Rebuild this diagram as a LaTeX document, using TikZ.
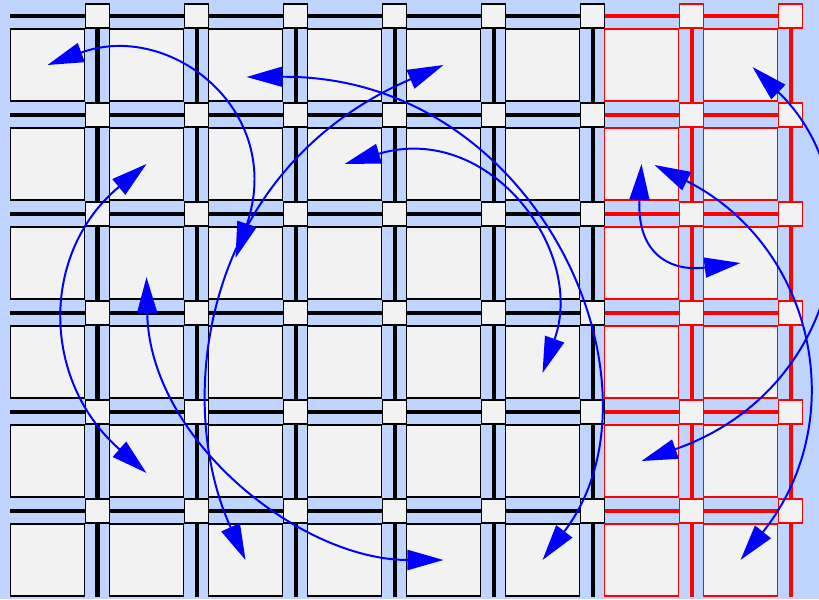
\documentclass[tikz,border=0pt]{standalone}
\usepackage{tikz}
\usetikzlibrary{arrows.meta,backgrounds}
\definecolor{lanebg}{RGB}{191,212,255}
\definecolor{tilefill}{RGB}{242,242,242}
\definecolor{swapblue}{RGB}{0,0,255}

\begin{document}
\begin{tikzpicture}[x=0.025cm, y=-0.025cm,
    tile/.style={draw, fill=tilefill, line width=1.05pt, inner sep=0pt,
        minimum width=1.84cm, minimum height=1.81cm},
    router/.style={draw, fill=tilefill, line width=1.05pt, inner sep=0pt,
        minimum size=0.6cm},
    wire/.style={line width=2.85pt},
    xchg/.style={swapblue, line width=1.4pt, >={Triangle[length=9mm,width=5mm]}, <->}]
    \useasboundingbox (0,0) rectangle (819,599);

    % Tiles and routers (last two columns are the red region)
    \foreach \i/\edge in {0/black,1/black,2/black,3/black,4/black,5/black,6/red,7/red} {
        \foreach \j in {0,...,5} {
            \node[tile, draw=\edge] (t-\i-\j) at (47.5+99*\i, 65+99*\j) {};
            \node[router, draw=\edge] (s-\i-\j) at (97.5+99*\i, 16+99*\j) {};
        }
    }

    % Links between routers, under everything
    \begin{scope}[on background layer]
        \fill[lanebg] (0,0) rectangle (819,599);
        \foreach \j in {0,...,5} {
            \coordinate (w-\j) at (10, 16+99*\j);
            \draw[wire] (w-\j) -- (s-0-\j) -- (s-1-\j) -- (s-2-\j) -- (s-3-\j) -- (s-4-\j) -- (s-5-\j);
            \draw[wire, red] (s-5-\j) -- (s-6-\j) -- (s-7-\j);
        }
        \foreach \i/\edge in {0/black,1/black,2/black,3/black,4/black,5/black,6/red,7/red} {
            \coordinate (b-\i) at (97.5+99*\i, 597);
            \draw[wire, \edge] (s-\i-0) -- (s-\i-1) -- (s-\i-2) -- (s-\i-3) -- (s-\i-4) -- (s-\i-5) -- (b-\i);
        }
    \end{scope}

    % Swaps between tiles
    \draw[xchg] (t-0-0.center) .. controls +(122,-45) and +(50,-148) .. ([shift={(-10,-5)}]t-2-2.center);
    \draw[xchg] (t-4-0.center) .. controls +(-243,105) and +(-72,-158) .. (t-2-5.center);
    \draw[xchg] ([shift={(1,12)}]t-2-0.center) .. controls +(293,-2) and +(132,-173) .. (t-5-5.center);
    \draw[xchg] (t-3-1.center) .. controls +(144,-43) and +(44,-123) .. ([shift={(0,11)}]t-5-3.center);
    \draw[xchg] (t-1-1.center) .. controls +(-106,88) and +(-106,-93) .. ([shift={(0,12)}]t-1-4.center);
    \draw[xchg] ([shift={(0,14)}]t-1-2.center) .. controls +(3,163) and +(-143,0) .. (t-4-5.center);
    % red region
    \draw[xchg] (t-6-1.center) .. controls +(-5,90) and +(-70,9) .. (t-7-2.center);
    \draw[xchg] ([shift={(13,1)}]t-6-1.center) .. controls +(160,80) and +(112,-140) .. (t-7-5.center);
    \draw[xchg] ([shift={(12,2)}]t-7-0.center) .. controls +(127,123) and +(200,-70) .. (t-6-4.center);
\end{tikzpicture}
\end{document}
